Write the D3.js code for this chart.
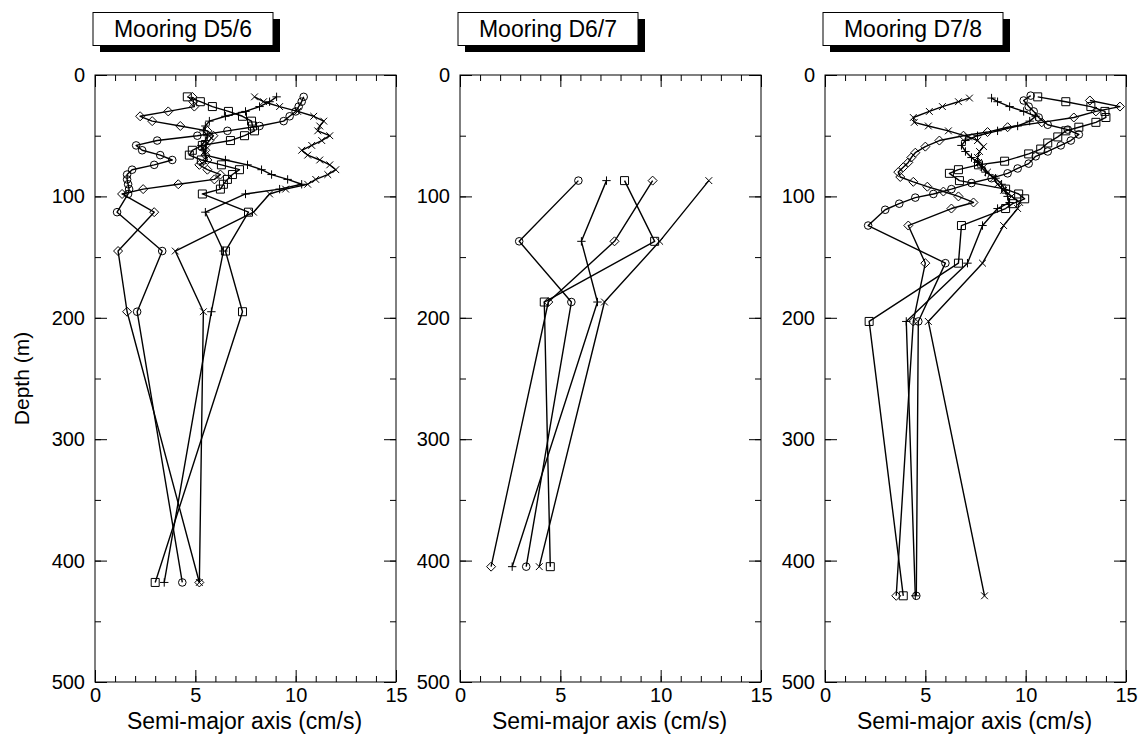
<!DOCTYPE html>
<html><head><meta charset="utf-8">
<script src="https://cdn.jsdelivr.net/npm/d3@7"></script>
<style>body{margin:0;background:#fff} text{font-family:"Liberation Sans",Arial,Helvetica,sans-serif}</style>
</head><body><svg id="c" width="1140" height="740"></svg>
<script>
// ---------- DATA ----------
const xTicks = [0, 5, 10, 15];
const yTicks = [0, 100, 200, 300, 400, 500];
const titles = ["Mooring D5/6", "Mooring D6/7", "Mooring D7/8"];

// Panel 1 (D5/6): shared depths
const p1Depth = [18,22,26,30,34,38,42,46,50,54,58,62,66,70,74,78,82,86,90,94,98,113,145,195,418];
const p1Circle  = [10.4,10.3,10.15,10.0,9.7,9.4,8.2,6.6,5.1,3.1,2.05,2.35,3.25,3.85,2.95,1.85,1.6,1.6,1.65,1.7,1.65,1.1,3.35,2.1,4.35];
const p1Plus    = [9.05,8.7,8.2,7.5,6.5,5.7,5.5,5.4,5.6,5.5,5.3,5.4,5.5,6.5,7.6,8.3,8.8,9.6,10.3,9.2,7.5,5.5,6.4,5.8,3.45];
const p1Cross   = [7.95,8.4,9.2,10.1,10.9,11.4,11.2,11.1,11.7,11.3,10.8,10.3,10.6,11.2,11.7,12.0,11.6,11.0,10.6,9.5,8.7,7.9,4.0,5.4,5.2];
const p1Square  = [4.6,5.25,5.85,6.65,7.35,7.8,7.85,7.95,7.45,6.75,5.35,4.85,4.7,5.3,6.3,7.2,6.85,6.6,6.4,6.25,5.35,7.65,6.5,7.35,3.0];
const p1Diamond = [4.85,4.9,4.95,3.65,2.25,2.85,4.25,5.6,5.9,5.7,5.5,5.5,5.5,5.6,5.2,5.6,6.25,5.95,4.15,2.4,1.35,2.95,1.15,1.6,5.2];

// Panel 2 (D6/7)
const p2Depth = [87,137,187,405];
const p2Circle  = [5.9,2.95,5.55,3.3];
const p2Plus    = [7.3,6.05,6.85,2.6];
const p2Cross   = [12.4,9.95,7.2,3.95];
const p2Square  = [8.2,9.7,4.2,4.5];
const p2Diamond = [9.6,7.7,4.4,1.55];

// Panel 3 (D7/8): each series has its own depths
const p3CircleDepth  = [17,21,26,30,35,41,45,49,54,58,63,67,73,77,81,85,89,94,98,101,106,111,124,155,203,429];
const p3Circle       = [10.25,9.9,10.15,10.4,10.65,11.1,12.1,12.65,12.25,11.75,11.1,10.5,10.15,9.6,9.1,8.3,7.3,6.3,5.4,4.5,3.7,3.0,2.15,6.0,4.65,4.55];
const p3PlusDepth    = [19,22,26,30,34,38,42,46,50,54,58,63,68,72,76,80,85,90,95,100,105,110,124,155,203,429];
const p3Plus         = [8.3,8.6,9.2,9.9,10.5,10.2,9.6,8.6,7.6,7.0,6.8,7.0,7.3,7.6,7.8,8.0,8.5,8.8,9.0,9.1,9.2,8.6,7.85,7.1,4.05,4.5];
const p3CrossDepth   = [19,22,26,30,35,39,42,46,51,54,59,63,68,72,76,80,85,90,95,100,105,110,124,155,203,429];
const p3Cross        = [7.2,6.65,5.85,5.2,4.4,4.45,5.15,6.15,7.15,7.6,7.9,7.7,7.6,7.65,7.9,8.1,8.4,8.6,8.9,9.3,9.7,9.6,8.9,7.85,5.15,7.95];
const p3SquareDepth  = [18,22,26,30,35,39,43,46,51,56,61,65,71,74,78,81,87,94,98,102,106,110,124,155,203,429];
const p3Square       = [10.6,12.0,13.25,13.95,14.0,13.5,12.65,12.0,11.6,11.1,10.75,10.15,8.95,7.65,6.65,6.2,6.7,9.0,9.65,9.95,9.35,9.0,6.8,6.65,2.2,3.9];
const p3DiamondDepth = [21,26,30,35,39,43,47,50,54,59,64,68,72,76,80,84,88,92,96,100,105,110,124,155,203,429];
const p3Diamond      = [13.2,14.7,13.5,12.4,10.8,9.1,8.1,6.9,5.7,5.0,4.5,4.3,4.15,3.9,3.65,3.75,4.4,5.1,5.9,6.65,7.4,6.3,4.15,5.0,4.4,3.55];

// ---------- BUILD ----------
const panels = [
  { title: titles[0], series: [
    {m:"circle", d:p1Depth, v:p1Circle}, {m:"plus", d:p1Depth, v:p1Plus},
    {m:"cross", d:p1Depth, v:p1Cross}, {m:"square", d:p1Depth, v:p1Square},
    {m:"diamond", d:p1Depth, v:p1Diamond}]},
  { title: titles[1], series: [
    {m:"circle", d:p2Depth, v:p2Circle}, {m:"plus", d:p2Depth, v:p2Plus},
    {m:"cross", d:p2Depth, v:p2Cross}, {m:"square", d:p2Depth, v:p2Square},
    {m:"diamond", d:p2Depth, v:p2Diamond}]},
  { title: titles[2], series: [
    {m:"circle", d:p3CircleDepth, v:p3Circle}, {m:"plus", d:p3PlusDepth, v:p3Plus},
    {m:"cross", d:p3CrossDepth, v:p3Cross}, {m:"square", d:p3SquareDepth, v:p3Square},
    {m:"diamond", d:p3DiamondDepth, v:p3Diamond}]}
];

const svg = d3.select("#c");
const left0 = [95, 460, 825];
const W = 301, plotTop = 75, plotBottom = 682;
const y = d3.scaleLinear().domain([0, 500]).range([plotTop, plotBottom]);

function markerPath(m) {
  switch (m) {
    case "circle": return "M3.8,0A3.8,3.8 0 1,1 -3.8,0A3.8,3.8 0 1,1 3.8,0Z";
    case "square": return "M-4,-4H4V4H-4Z";
    case "diamond": return "M0,-4.5L4.5,0L0,4.5L-4.5,0Z";
    case "plus": return "M-4.2,0H4.2M0,-4.2V4.2";
    case "cross": return "M-3.4,-3.4L3.4,3.4M-3.4,3.4L3.4,-3.4";
  }
}

panels.forEach((p, i) => {
  const x0 = left0[i];
  const x = d3.scaleLinear().domain([0, 15]).range([x0, x0 + W]);
  const g = svg.append("g");

  g.append("rect").attr("x", x0 + 5).attr("y", 19).attr("width", 180).attr("height", 33).attr("fill", "#000");
  g.append("rect").attr("x", x0 - 2).attr("y", 12.5).attr("width", 180).attr("height", 33)
    .attr("fill", "#fff").attr("stroke", "#000").attr("stroke-width", 1);
  g.append("text").attr("x", x0 + 88).attr("y", 37).attr("text-anchor", "middle")
    .attr("font-size", 23).text(p.title);

  const minorX = d3.range(0, 16, 1);
  const minorY = d3.range(0, 501, 50);
  g.append("g").attr("transform", `translate(0,${plotBottom})`)
    .call(d3.axisBottom(x).tickValues(xTicks).tickSize(-12).tickPadding(6).tickFormat(d3.format("d")));
  g.append("g").attr("transform", `translate(0,${plotBottom})`)
    .call(d3.axisBottom(x).tickValues(minorX).tickSize(-6).tickFormat(""));
  g.append("g").attr("transform", `translate(0,${plotTop})`)
    .call(d3.axisTop(x).tickValues(xTicks).tickSize(-12).tickFormat(""));
  g.append("g").attr("transform", `translate(0,${plotTop})`)
    .call(d3.axisTop(x).tickValues(minorX).tickSize(-6).tickFormat(""));
  g.append("g").attr("transform", `translate(${x0},0)`)
    .call(d3.axisLeft(y).tickValues(yTicks).tickSize(-12).tickPadding(10).tickFormat(d3.format("d")));
  g.append("g").attr("transform", `translate(${x0},0)`)
    .call(d3.axisLeft(y).tickValues(minorY).tickSize(-6).tickFormat(""));
  g.append("g").attr("transform", `translate(${x0 + W},0)`)
    .call(d3.axisRight(y).tickValues(yTicks).tickSize(-12).tickFormat(""));
  g.append("g").attr("transform", `translate(${x0 + W},0)`)
    .call(d3.axisRight(y).tickValues(minorY).tickSize(-6).tickFormat(""));
  g.selectAll(".domain").remove();
  g.selectAll(".tick line").attr("stroke", "#000").attr("stroke-width", 1);
  g.selectAll(".tick text").attr("font-size", 20).attr("fill", "#000").attr("font-family", "Liberation Sans, Arial, sans-serif");

  g.append("rect").attr("x", x0).attr("y", plotTop).attr("width", W).attr("height", plotBottom - plotTop)
    .attr("fill", "none").attr("stroke", "#000").attr("stroke-width", 1);

  g.append("text").attr("x", x0 + W / 2 - 1).attr("y", 729).attr("text-anchor", "middle")
    .attr("font-size", 23).text("Semi-major axis (cm/s)");
  if (i === 0) {
    g.append("text").attr("transform", `translate(29,${(plotTop + plotBottom) / 2}) rotate(-90)`)
      .attr("text-anchor", "middle").attr("font-size", 21).text("Depth (m)");
  }

  const line = d3.line().x(d => x(d[0])).y(d => y(d[1]));
  p.series.forEach(s => {
    const pts = s.v.map((v, k) => [v, s.d[k]]);
    g.append("path").datum(pts).attr("d", line).attr("fill", "none")
      .attr("stroke", "#000").attr("stroke-width", 1.4).attr("stroke-linejoin", "round");
    g.selectAll(null).data(pts).enter().append("path")
      .attr("transform", d => `translate(${x(d[0])},${y(d[1])})`)
      .attr("d", markerPath(s.m)).attr("fill", "none").attr("stroke", "#000").attr("stroke-width", 1);
  });
});
</script></body></html>
